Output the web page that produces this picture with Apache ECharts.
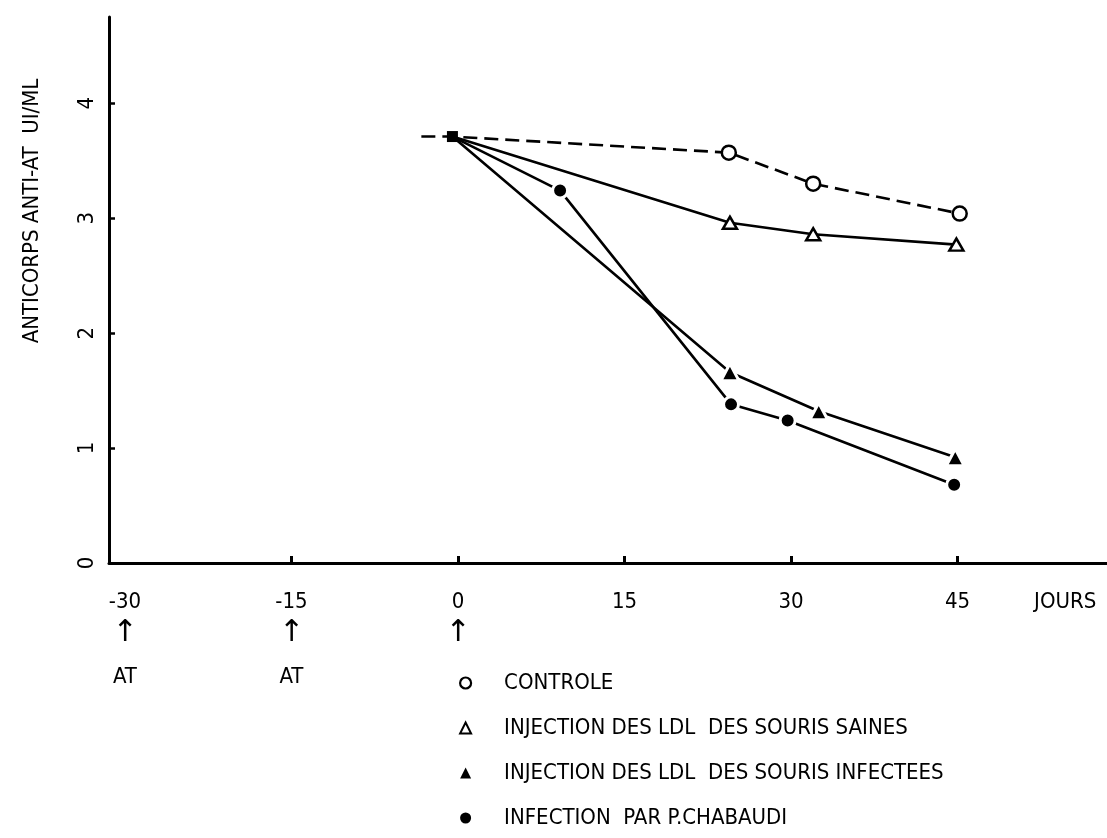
<!DOCTYPE html>
<html>
<head>
<meta charset="utf-8">
<script src="https://cdn.jsdelivr.net/npm/echarts@6/dist/echarts.min.js"></script>
<style>
  html, body { margin: 0; padding: 0; background: #fff; }
  #chart { width: 1107px; height: 838px; }
</style>
</head>
<body>
<div id="chart"></div>
<script>
// Anti-AT antibody titres (UI/mL) over time, in days
const controleJours = [-3.3, -0.5, 24.4, 32.0, 45.2];
const controleValeurs = [3.71, 3.71, 3.57, 3.30, 3.04];

const sainesJours = [-0.5, 24.5, 32.0, 44.9];
const sainesValeurs = [3.71, 2.96, 2.86, 2.77];

const infecteesJours = [-0.5, 24.5, 32.5, 44.8];
const infecteesValeurs = [3.71, 1.66, 1.32, 0.92];

const chabaudiJours = [-0.5, 9.2, 24.6, 29.7, 44.7];
const chabaudiValeurs = [3.71, 3.24, 1.38, 1.24, 0.68];

// Axis ticks and annotations
const joursTicks = [-30, -15, 0, 15, 30, 45];
const joursTickMarks = [-15, 0, 15, 30, 45];
const joursTitrePos = 54.7;
const joursTitre = 'JOURS';
const titreTicks = [0, 1, 2, 3, 4];
const injectionsAT = [-30, -15];   // AT injections
const fleches = [-30, -15, 0];      // arrows under the axis

const noms = [
  'CONTROLE',
  'INJECTION DES LDL  DES SOURIS SAINES',
  'INJECTION DES LDL  DES SOURIS INFECTEES',
  'INFECTION  PAR P.CHABAUDI'
];

const police = "'Liberation Sans Narrow', 'DejaVu Sans Condensed', 'Liberation Sans', sans-serif";
const taille = 22;

function paires(xs, ys) {
  return xs.map((x, i) => [x, ys[i]]);
}

// the shared starting point (day 0) carries no marker except on the control curve
function depart(data) {
  data[0] = { value: data[0], symbol: 'none' };
  return data;
}

const controleData = paires(controleJours, controleValeurs);
controleData[0] = { value: controleData[0], symbol: 'none' };
controleData[1] = {
  value: controleData[1], symbol: 'rect', symbolSize: 11,
  itemStyle: { color: '#000', borderColor: '#000', borderWidth: 0 }
};

const ligne = { color: '#000', width: 2.6 };

const chart = echarts.init(document.getElementById('chart'), null, { renderer: 'canvas' });

chart.setOption({
  backgroundColor: '#fff',
  animation: false,
  textStyle: { fontFamily: police, color: '#000' },
  grid: { left: 109, right: 0, top: 17, bottom: 275, containLabel: false, outerBoundsMode: 'none' },
  xAxis: {
    type: 'value',
    min: -31.44,
    max: 58.47,
    axisLine: { onZero: false, lineStyle: { color: '#000', width: 3 } },
    splitLine: { show: false },
    axisTick: {
      show: true, inside: true, length: 7,
      customValues: joursTickMarks,
      lineStyle: { color: '#000', width: 3 }
    },
    axisLabel: {
      customValues: joursTicks.concat([joursTitrePos]),
      margin: 28,
      color: '#000',
      fontFamily: police,
      fontSize: taille,
      formatter: function (v) {
        if (Math.abs(v - joursTitrePos) < 1e-6) return '{n|' + joursTitre + '}';
        let s = '{n|' + v + '}';
        if (fleches.indexOf(v) >= 0) s += '\n{ar|↑}';
        if (injectionsAT.indexOf(v) >= 0) s += '\n{at|AT}';
        return s;
      },
      rich: {
        n: { fontFamily: police, fontSize: taille, lineHeight: 22, color: '#000' },
        ar: { fontFamily: "'DejaVu Sans', sans-serif", fontSize: 30, lineHeight: 40, color: '#000' },
        at: { fontFamily: police, fontSize: taille, lineHeight: 48, color: '#000' }
      }
    }
  },
  yAxis: {
    type: 'value',
    min: 0,
    max: 4.75,
    name: 'ANTICORPS ANTI-AT  UI/ML',
    nameLocation: 'middle',
    nameRotate: 90,
    nameGap: 66,
    nameTextStyle: { fontFamily: police, fontSize: taille, color: '#000', padding: [0, 0, 0, 158] },
    axisLine: { show: true, onZero: false, lineStyle: { color: '#000', width: 3 } },
    splitLine: { show: false },
    axisTick: {
      show: true, inside: true, length: 6,
      customValues: titreTicks,
      lineStyle: { color: '#000', width: 2.5 }
    },
    axisLabel: {
      customValues: titreTicks,
      rotate: 90,
      margin: 11,
      color: '#000',
      fontFamily: police,
      fontSize: taille
    }
  },
  legend: {
    type: 'plain',
    orient: 'vertical',
    left: 459,
    top: 671,
    height: 167,
    padding: 0,
    itemWidth: 11,
    itemHeight: 11,
    itemGap: 21,
    selectedMode: false,
    textStyle: { fontFamily: police, fontSize: taille, lineHeight: 24, color: '#000', padding: [0, 0, 0, 28] },
    data: [
      { name: noms[0], icon: 'circle', itemStyle: { color: '#fff', borderColor: '#000', borderWidth: 2.2 } },
      { name: noms[1], icon: 'triangle', itemStyle: { color: '#fff', borderColor: '#000', borderWidth: 2 } },
      { name: noms[2], icon: 'triangle', itemStyle: { color: '#000', borderColor: '#000', borderWidth: 0 } },
      { name: noms[3], icon: 'circle', itemStyle: { color: '#000', borderColor: '#000', borderWidth: 0 } }
    ]
  },
  series: [
    {
      name: noms[0],
      type: 'line',
      data: controleData,
      symbol: 'circle',
      symbolSize: 14,
      itemStyle: { color: '#fff', borderColor: '#000', borderWidth: 2.5 },
      lineStyle: Object.assign({}, ligne, { type: [14, 7] }),
      z: 3
    },
    {
      name: noms[1],
      type: 'line',
      data: depart(paires(sainesJours, sainesValeurs)),
      symbol: 'triangle',
      symbolSize: [14, 12],
      itemStyle: { color: '#fff', borderColor: '#000', borderWidth: 2.5 },
      lineStyle: ligne,
      z: 2
    },
    {
      name: noms[2],
      type: 'line',
      data: depart(paires(infecteesJours, infecteesValeurs)),
      symbol: 'triangle',
      symbolSize: [18, 17],
      itemStyle: { color: '#000', borderColor: '#fff', borderWidth: 3 },
      lineStyle: ligne,
      z: 2
    },
    {
      name: noms[3],
      type: 'line',
      data: depart(paires(chabaudiJours, chabaudiValeurs)),
      symbol: 'circle',
      symbolSize: 15,
      itemStyle: { color: '#000', borderColor: '#fff', borderWidth: 3 },
      lineStyle: ligne,
      z: 2
    }
  ]
});
</script>
</body>
</html>
